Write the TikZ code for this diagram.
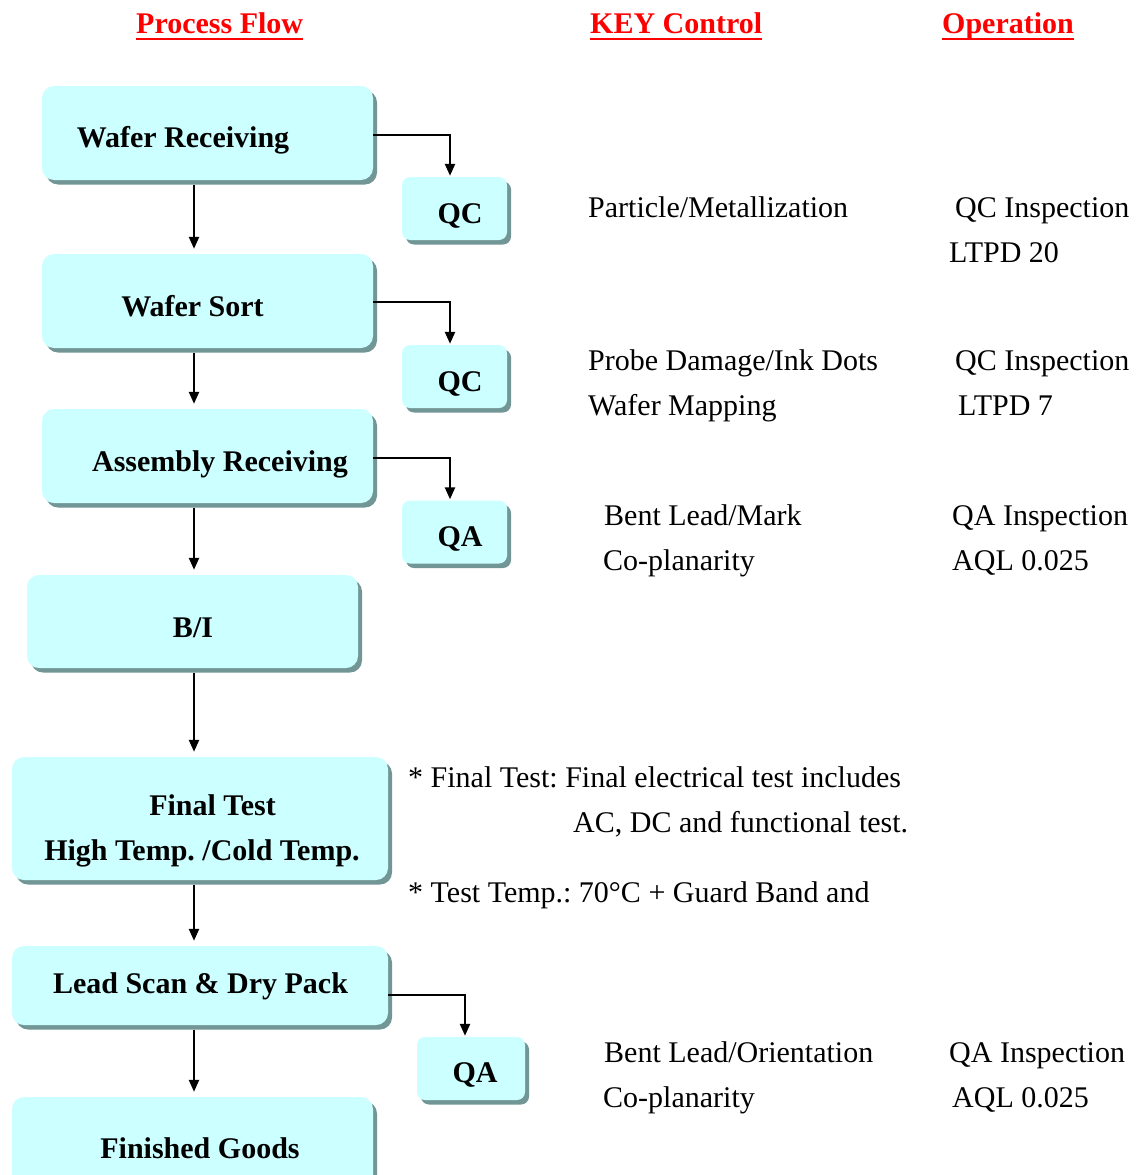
\documentclass[tikz,border=0pt]{standalone}
\usepackage{fontspec}
\setmainfont{Liberation Serif}
\usetikzlibrary{shadows,arrows.meta}
\frenchspacing

\definecolor{boxfill}{HTML}{CCFFFF}
\definecolor{boxshadow}{HTML}{729696}
\definecolor{hdrred}{HTML}{FF0000}

\tikzset{
  flowbox/.style={rectangle, rounded corners=12pt, fill=boxfill, draw=none,
    inner sep=0pt,
    drop shadow={shadow xshift=4pt, shadow yshift=-4.5pt, fill=boxshadow, opacity=1}},
  chkbox/.style={flowbox, rounded corners=8pt, minimum width=105pt, minimum height=63pt},
  boxlbl/.style={anchor=base, inner sep=0pt, font=\fontsize{30}{36}\selectfont\bfseries},
  note/.style={anchor=base west, inner sep=0pt, font=\fontsize{30}{36}\selectfont},
  hdr/.style={anchor=base west, inner sep=0pt, text=hdrred,
    font=\fontsize{30}{36}\selectfont\bfseries},
  flowarrow/.style={line width=2.3pt, -{Triangle[length=12pt,width=10pt]}},
}

\begin{document}
\begin{tikzpicture}[x=1pt, y=-1pt]
\path[use as bounding box, clip] (0,0) rectangle (1136,1175);
\fill[white] (0,0) rectangle (1136,1175);

% column headings
\node[hdr] (h1) at (136,33) {Process Flow};
\node[hdr] (h2) at (590,33) {KEY Control};
\node[hdr] (h3) at (942,33) {Operation};
\foreach \h in {h1,h2,h3}
  \draw[hdrred, line width=2.5pt] ([yshift=-6pt]\h.base west) -- ([yshift=-6pt]\h.base east);

% main process boxes
\node[flowbox, minimum width=331pt, minimum height=94pt] (wr) at (207.5,133) {};
\node[flowbox, minimum width=331pt, minimum height=94pt] (ws) at (207.5,301) {};
\node[flowbox, minimum width=331pt, minimum height=94pt] (ar) at (207.5,456) {};
\node[flowbox, minimum width=331pt, minimum height=93pt] (bi) at (192.5,621.5) {};
\node[flowbox, minimum width=376pt, minimum height=123pt] (ft) at (200,818.5) {};
\node[flowbox, minimum width=376pt, minimum height=79pt] (ls) at (200,985.5) {};
\node[flowbox, minimum width=361pt, minimum height=110pt] (fg) at (192.5,1152) {};

\node[boxlbl] (wrt) at (183,147) {Wafer Receiving};
\node[boxlbl] (wst) at (192.5,316) {Wafer Sort};
\node[boxlbl] (art) at (220,471) {Assembly Receiving};
\node[boxlbl] (bit) at (193,637) {B/I};
\node[boxlbl] (ftt1) at (212.5,815) {Final Test};
\node[boxlbl] (ftt2) at (202,860) {High Temp. /Cold Temp.};
\node[boxlbl] (lst) at (200.5,993) {Lead Scan \& Dry Pack};
\node[boxlbl] (fgt) at (200,1158) {Finished Goods};

% inspection boxes
\node[chkbox] (qc1) at (454.5,208.5) {};
\node[chkbox] (qc2) at (454.5,376.5) {};
\node[chkbox] (qa1) at (454.5,532) {};
\node[chkbox, minimum width=108pt] (qa2) at (471,1068.5) {};

\node[boxlbl] (qc1t) at (460,223) {QC};
\node[boxlbl] (qc2t) at (460,391) {QC};
\node[boxlbl] (qa1t) at (460,546) {QA};
\node[boxlbl] (qa2t) at (475,1082) {QA};

% main flow
\coordinate (spine) at (194,0);
\foreach \a/\b in {wr/ws, ws/ar, ar/bi, bi/ft, ft/ls, ls/fg}
  \draw[flowarrow, shorten <=4.5pt, shorten >=5pt] (\a.south -| spine) -- (\b.north -| spine);

% branches to inspection
\draw[flowarrow, shorten >=1pt] ([yshift=-2pt]wr.east) -| ([xshift=-4.5pt]qc1.north);
\draw[flowarrow, shorten >=1pt] ([yshift=-1pt]ws.east) -| ([xshift=-4.5pt]qc2.north);
\draw[flowarrow, shorten >=1pt] ([yshift=-2pt]ar.east) -| ([xshift=-4.5pt]qa1.north);
\draw[flowarrow, shorten >=1pt] ([yshift=-9.5pt]ls.east) -| ([xshift=-6pt]qa2.north);

% key controls and operations
\node[note] (k1) at (588,217) {Particle/Metallization};
\node[note] (o1) at (955,217) {QC Inspection};
\node[note] (o1b) at (949,262) {LTPD 20};

\node[note] (k2) at (588,370) {Probe Damage/Ink Dots};
\node[note] (o2) at (955,370) {QC Inspection};
\node[note] (k2b) at (588,415) {Wafer Mapping};
\node[note] (o2b) at (958,415) {LTPD 7};

\node[note] (k3) at (604,525) {Bent Lead/Mark};
\node[note] (o3) at (952,525) {QA Inspection};
\node[note] (k3b) at (603,570) {Co-planarity};
\node[note] (o3b) at (952,570) {AQL 0.025};

\node[note] (n1) at (408,787) {* Final Test: Final electrical test includes};
\node[note] (n1b) at (573,832) {AC, DC and functional test.};
\node[note] (n2) at (408,902) {* Test Temp.: 70°C + Guard Band and};

\node[note] (k4) at (604,1062) {Bent Lead/Orientation};
\node[note] (o4) at (949,1062) {QA Inspection};
\node[note] (k4b) at (603,1107) {Co-planarity};
\node[note] (o4b) at (952,1107) {AQL 0.025};
\end{tikzpicture}
\end{document}
